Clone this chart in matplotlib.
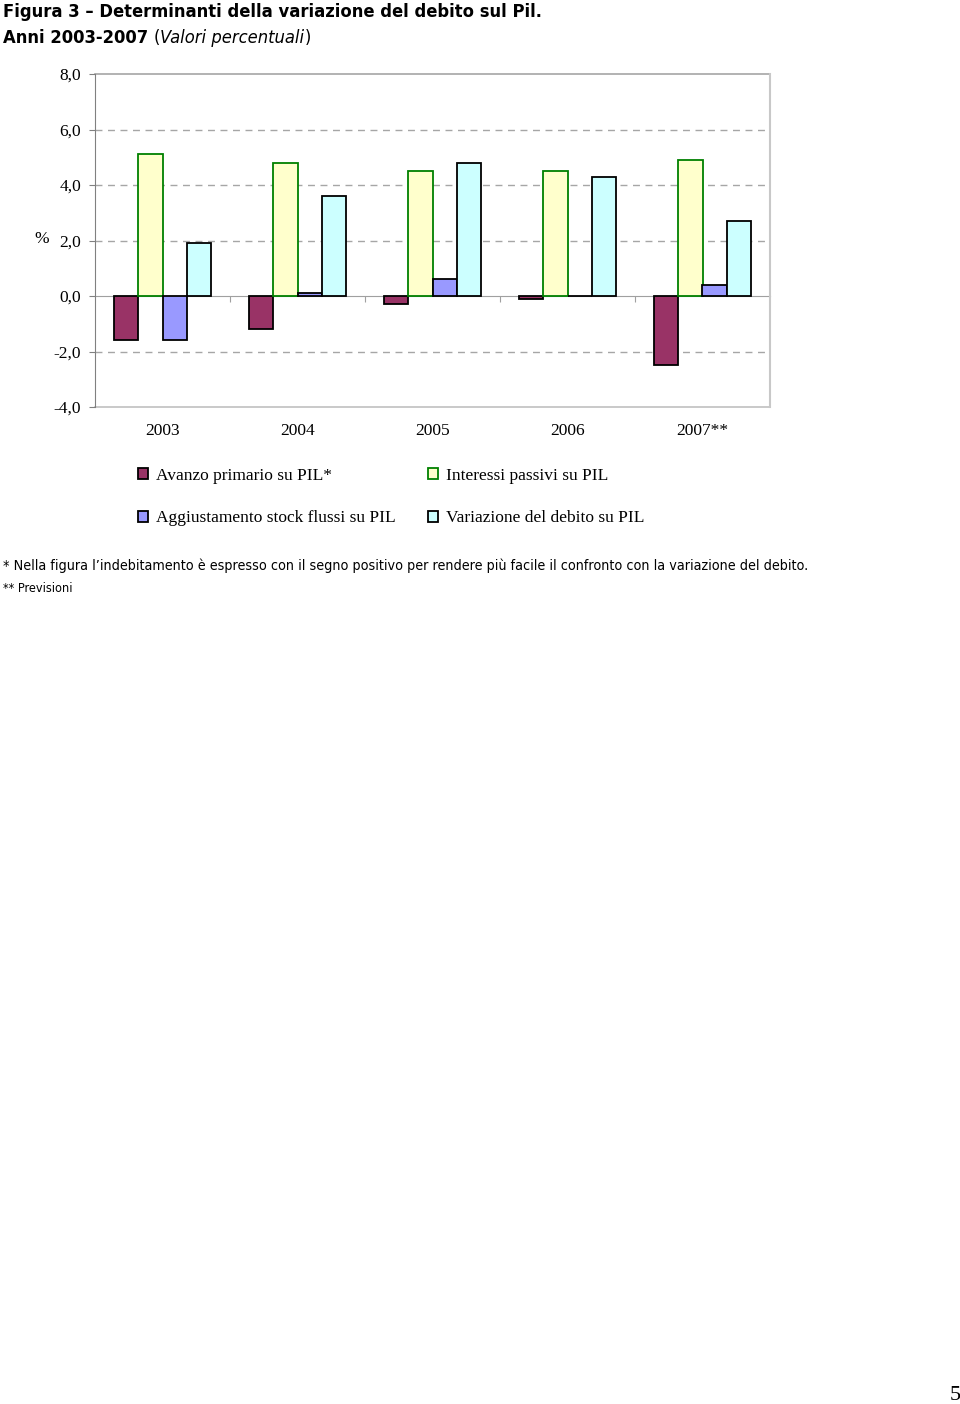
import matplotlib
matplotlib.use("Agg")
import matplotlib.pyplot as plt
from matplotlib.patches import Patch
from matplotlib import font_manager as fm
import numpy as np

years = ["2003", "2004", "2005", "2006", "2007**"]
avanzo = [-1.6, -1.2, -0.3, -0.1, -2.5]
interessi = [5.1, 4.8, 4.5, 4.5, 4.9]
aggiust = [-1.6, 0.1, 0.6, 0.0, 0.4]
variazione = [1.9, 3.6, 4.8, 4.3, 2.7]
series_labels = ["Avanzo primario su PIL*", "Interessi passivi su PIL",
                 "Aggiustamento stock flussi su PIL", "Variazione del debito su PIL"]
yticks = [-4, -2, 0, 2, 4, 6, 8]

serif = ["Liberation Serif", "DejaVu Serif"]
names = {f.name for f in fm.fontManager.ttflist}
condensed_avail = any(f.name == "DejaVu Sans" and str(f.stretch) in ("condensed", "semi-condensed")
                      for f in fm.fontManager.ttflist)
if "Liberation Sans Narrow" in names:
    narrow = dict(family=["Liberation Sans Narrow"], stretch="normal")
    nscale = 1.0
elif condensed_avail:
    narrow = dict(family=["DejaVu Sans"], stretch="condensed")
    nscale = 0.95
else:
    narrow = dict(family=["Liberation Sans"], stretch="normal")
    nscale = 0.88

fig = plt.figure(figsize=(9.6, 14.04), dpi=100)
ax = fig.add_axes([95/960, 1-407/1404, 675/960, 333/1404])

x = np.arange(len(years))
w = 0.181
faces = ["#993366", "#FFFFCC", "#9999FF", "#CCFFFF"]
edges = ["#000000", "#008000", "#000000", "#000000"]
data = [avanzo, interessi, aggiust, variazione]
for k, (vals, fc, ec) in enumerate(zip(data, faces, edges)):
    off = (k - 1.5) * w
    ax.bar(x + off, vals, w, color=fc, edgecolor=ec, linewidth=1.3, zorder=3)

ax.set_xlim(-0.5, 4.5)
ax.set_ylim(-4, 8)
ax.set_yticks(yticks)
ax.set_yticklabels([f"{v:.1f}".replace(".", ",") for v in yticks],
                   fontfamily=serif, fontsize=12.5)
for v in yticks:
    if v in (-4, 0, 8):
        continue
    ax.axhline(v, color="#a6a6a6", lw=1, ls=(0, (5, 4)), zorder=1)
ax.axhline(-4, color="#c0c0c0", lw=1.2, zorder=1, clip_on=False)
ax.axhline(8, color="#a6a6a6", lw=1.2, zorder=1, clip_on=False)

ax.spines["top"].set_visible(False)
ax.spines["right"].set_color("#c8c8c8")
ax.spines["right"].set_linewidth(1.5)
ax.spines["left"].set_color("#808080")
ax.spines["bottom"].set_position(("data", 0))
ax.spines["bottom"].set_color("#a0a0a0")
ax.spines["bottom"].set_zorder(2)
ax.set_xticks([0.5, 1.5, 2.5, 3.5])
ax.set_xticklabels([])
ax.tick_params(axis="x", direction="out", length=4, color="#a0a0a0")
ax.tick_params(axis="y", direction="out", length=4, color="#808080", pad=6)

for i, lab in enumerate(years):
    ax.text(i, -4.85, lab, ha="center", va="center", fontfamily=serif, fontsize=12.5)

fig.text(42/960, 1-239/1404, "%", ha="center", va="center", fontfamily=serif, fontsize=12.5)

handles = [Patch(facecolor=faces[i], edgecolor=edges[i], linewidth=1.3) for i in range(4)]
order = [0, 2, 1, 3]
leg = fig.legend([handles[i] for i in order], [series_labels[i] for i in order],
                 ncol=2, loc="upper left", bbox_to_anchor=(138/960, 1-468/1404),
                 frameon=False, prop={"family": serif, "size": 12.5},
                 handlelength=0.6, handleheight=0.6, handletextpad=0.45,
                 labelspacing=1.52, columnspacing=1.85, borderpad=0, borderaxespad=0)

tfs = 13.8 * nscale
fig.text(3/960, 1-12/1404, "Figura 3 \u2013 Determinanti della variazione del debito sul Pil.",
         ha="left", va="center", fontweight="bold", fontsize=tfs, **narrow)
t1 = fig.text(3/960, 1-38/1404, "Anni 2003-2007 ", ha="left", va="center",
              fontweight="bold", fontsize=tfs, **narrow)
fig.canvas.draw()
r = fig.canvas.get_renderer()
bb = t1.get_window_extent(r)
t2 = fig.text(bb.x1/960, 1-38/1404, "(", ha="left", va="center", fontsize=tfs, **narrow)
bb = t2.get_window_extent(r)
t3 = fig.text(bb.x1/960, 1-38/1404, "Valori percentuali", ha="left", va="center",
              fontstyle="italic", fontsize=tfs, **narrow)
bb = t3.get_window_extent(r)
fig.text(bb.x1/960, 1-38/1404, ")", ha="left", va="center", fontsize=tfs, **narrow)

fig.text(3/960, 1-566/1404,
         "* Nella figura l\u2019indebitamento \u00e8 espresso con il segno positivo per rendere pi\u00f9 facile il confronto con la variazione del debito.",
         ha="left", va="center", fontsize=10.8 * nscale, **narrow)
fig.text(3/960, 1-589/1404, "** Previsioni", ha="left", va="center", fontsize=9.6 * nscale, **narrow)

fig.text(955/960, 1-1395/1404, "5", ha="center", va="center", fontfamily=serif, fontsize=16)

fig.savefig("out.png", dpi=100, facecolor="white")
